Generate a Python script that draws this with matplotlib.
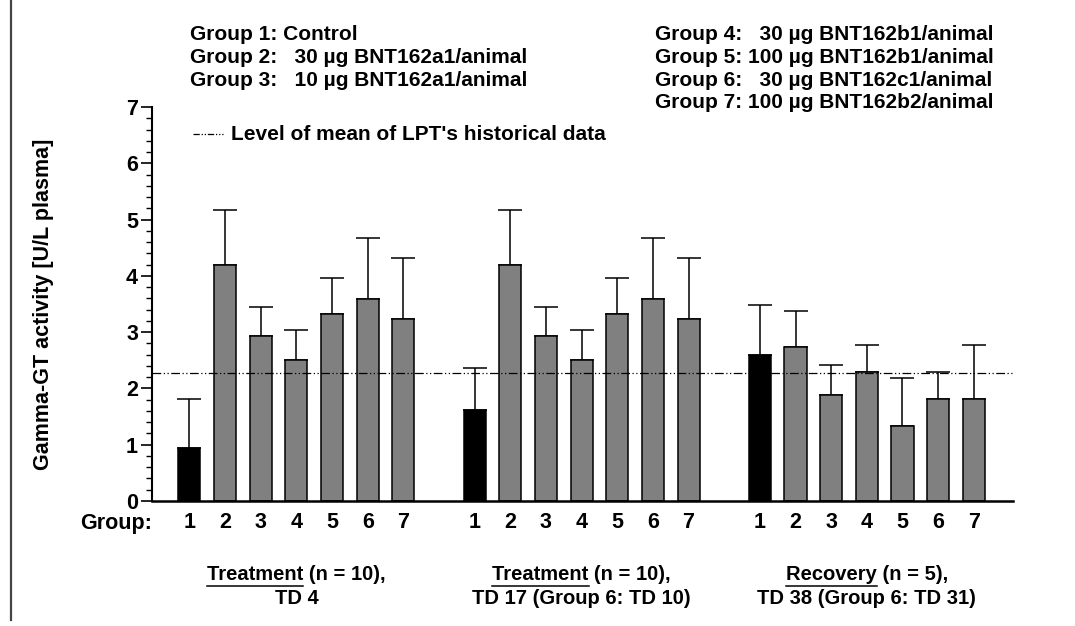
import matplotlib
matplotlib.use("Agg")
import matplotlib.pyplot as plt
from matplotlib.lines import Line2D
from matplotlib.ticker import MultipleLocator

# Gamma-GT activity per group, three sampling occasions
td4_mean = [0.95, 4.20, 2.93, 2.50, 3.32, 3.58, 3.24]
td4_sd = [0.87, 0.97, 0.51, 0.54, 0.65, 1.10, 1.08]
td17_mean = [1.62, 4.20, 2.93, 2.50, 3.32, 3.58, 3.24]
td17_sd = [0.74, 0.97, 0.51, 0.54, 0.65, 1.10, 1.08]
rec_mean = [2.59, 2.73, 1.88, 2.30, 1.34, 1.82, 1.82]
rec_sd = [0.90, 0.65, 0.54, 0.48, 0.84, 0.48, 0.96]
hist_level = 2.27

groups = ["1", "2", "3", "4", "5", "6", "7"]
periods = [("Treatment", " (n = 10),", "TD 4"),
           ("Treatment", " (n = 10),", "TD 17 (Group 6: TD 10)"),
           ("Recovery", " (n = 5),", "TD 38 (Group 6: TD 31)")]
legend_left = ["Group 1: Control",
               "Group 2:   30 µg BNT162a1/animal",
               "Group 3:   10 µg BNT162a1/animal"]
legend_right = ["Group 4:   30 µg BNT162b1/animal",
                "Group 5: 100 µg BNT162b1/animal",
                "Group 6:   30 µg BNT162c1/animal",
                "Group 7: 100 µg BNT162b2/animal"]

plt.rcParams['font.family'] = ['Liberation Sans', 'DejaVu Sans']
plt.rcParams['font.weight'] = 'bold'
plt.rcParams['axes.labelweight'] = 'bold'

W, H = 1075, 626
fig = plt.figure(figsize=(W / 100, H / 100), dpi=100)


def fx(px):
    return px / W


def fy(py):
    return 1 - py / H


ax = fig.add_axes([fx(152), fy(501), fx(1013) - fx(152), fy(107) - fy(501)])

all_mean = [td4_mean, td17_mean, rec_mean]
all_sd = [td4_sd, td17_sd, rec_sd]
xpos_all = []
for k in range(3):
    xs = [k * 8 + i for i in range(7)]
    xpos_all += xs
    colors = ['black'] + ['#808080'] * 6
    ax.bar(xs, all_mean[k], width=0.62, color=colors, edgecolor='black',
           linewidth=1.1, zorder=2)
    ax.errorbar(xs, all_mean[k], yerr=[[0] * 7, all_sd[k]], fmt='none',
                ecolor='black', elinewidth=1.1, capsize=8.3, capthick=1.1, zorder=1)

ax.axhline(hist_level, color='black', lw=0.9, ls=(0, (7, 2, 1, 2, 1, 2)), zorder=3)

ax.set_xlim(-1.05, 23.1)
ax.set_ylim(0, 7)
ax.yaxis.set_major_locator(MultipleLocator(1))
ax.yaxis.set_minor_locator(MultipleLocator(0.2))
ax.tick_params(axis='y', which='major', length=8, width=1.2, labelsize=15.5, pad=2)
ax.tick_params(axis='y', which='minor', length=4.5, width=1.0)
ax.set_xticks(xpos_all)
ax.set_xticklabels(groups * 3)
ax.tick_params(axis='x', length=0, labelsize=15.5, pad=8)
for s in ['top', 'right']:
    ax.spines[s].set_visible(False)
ax.spines['left'].set_linewidth(1.5)
ax.spines['bottom'].set_linewidth(1.8)
ax.set_ylabel('Gamma-GT activity [U/L plasma]', fontsize=15.5, labelpad=52)

fig.text(fx(152), fy(523), "Group:", fontsize=15.5, ha='right', va='center')

# header legend text
for i, t in enumerate(legend_left):
    fig.text(fx(190), fy(35 + 22.5 * i), t, fontsize=15, va='center')
for i, t in enumerate(legend_right):
    fig.text(fx(655), fy(35 + 22.5 * i), t, fontsize=15, va='center')

fig.add_artist(Line2D([fx(193), fx(223)], [fy(134), fy(134)], color='black', lw=0.9,
                      ls=(0, (5, 1.5, 1, 1.5, 1, 1.5))))
fig.text(fx(231), fy(134), "Level of mean of LPT's historical data", fontsize=15, va='center')

# period labels below axis, first word underlined
renderer = fig.canvas.get_renderer()
for k, (word, rest, line2) in enumerate(periods):
    xc = ax.transData.transform((k * 8 + 3, 0))[0] / W
    t1 = fig.text(xc, fy(575), word + rest, fontsize=14.5, ha='center', va='center')
    fig.text(xc, fy(598), line2, fontsize=14.5, ha='center', va='center')
    bb = t1.get_window_extent(renderer)
    tmp = fig.text(0, 0, word, fontsize=14.5)
    wb = tmp.get_window_extent(renderer)
    tmp.remove()
    y_ul = bb.y0 - 1
    fig.add_artist(Line2D([bb.x0 / W, (bb.x0 + wb.width) / W], [y_ul / H, y_ul / H],
                          color='black', lw=1.1))

# page border on the left
fig.add_artist(Line2D([fx(11), fx(11)], [fy(0), fy(620)], color='#444444', lw=1.6))

fig.savefig('out.png', dpi=100)
